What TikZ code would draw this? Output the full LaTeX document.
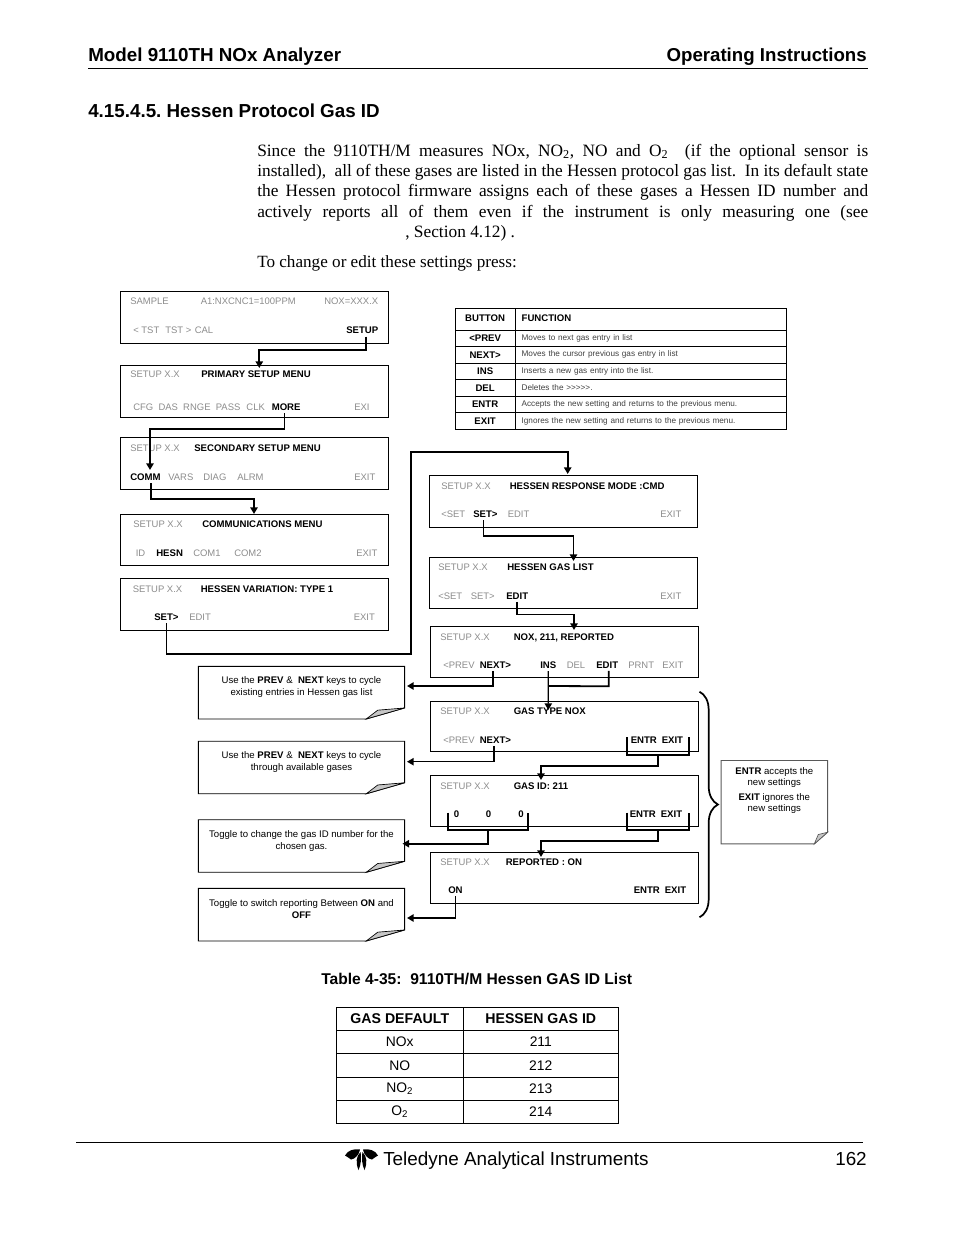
\documentclass[tikz,border=0pt]{standalone}
\usepackage{fontspec}
\setmainfont{Liberation Sans}
\newfontfamily\bodyfont{Liberation Serif}
\usetikzlibrary{calc,arrows.meta,decorations.pathreplacing}
\definecolor{keygray}{gray}{0.55}
\newcommand{\menusize}{\fontsize{7.1}{8}\selectfont}
\newcommand{\boldsize}{\fontsize{7.2}{8}\selectfont\bfseries}
\newcommand{\notesize}{\fontsize{7.2}{9}\selectfont}
\frenchspacing
\tikzset{
  menubox/.style={draw, line width=0.7pt, inner sep=0pt, minimum width=201pt, minimum height=38.5pt},
  dimkey/.style={anchor=base west, inner sep=0pt, text=keygray, font=\menusize},
  livekey/.style={anchor=base west, inner sep=0pt, font=\boldsize},
  flow/.style={line width=1.35pt, -{Triangle[length=5pt,width=5.5pt]}},
  thinflow/.style={flow, line width=1.05pt},
  keyflow/.style={flow, shorten <=2pt},
  thinkeyflow/.style={thinflow, shorten <=2pt},
  bar/.style={line width=1.35pt},
  notebox/.style={inner sep=0pt, minimum width=154.2pt, minimum height=39pt},
  sidebox/.style={inner sep=0pt, minimum width=79.5pt, minimum height=62.2pt},
  notetext/.style={inner sep=0pt, align=center, font=\notesize},
  btncell/.style={draw, line width=0.6pt, inner sep=0pt, minimum width=44.8pt, minimum height=12.4pt, font=\boldsize},
  fncell/.style={draw, line width=0.6pt, inner xsep=5pt, inner ysep=0pt, text width=193.8pt, minimum height=12.4pt, align=left, font=\fontsize{6.15}{8}\selectfont, text=black!75},
  gascell/.style={draw, line width=0.8pt, inner sep=0pt, minimum height=17.3pt, font=\fontsize{10.4}{13}\selectfont},
  gashead/.style={gascell, font=\fontsize{10.6}{13}\selectfont\bfseries},
  pagetext/.style={anchor=base west, inner sep=0pt},
}
% outline of a note with its turned-up corner
\newcommand{\foldnote}[4]{
  \draw[line width=0.7pt, draw=#4] ($(#1.south east)+(0,-#3)$) -- (#1.north east) -- (#1.north west) -- (#1.south west) -- ($(#1.south east)+(-#2,0)$) -- cycle;
  \draw[line width=0.5pt, draw=#4, fill=gray!45] ($(#1.south east)+(-#2,0)$) -- ($(#1.south east)+(-0.7*#2,-0.8*#3)$) -- ($(#1.south east)+(0,-#3)$) -- cycle;
}

\begin{document}
\begin{tikzpicture}[x=0.75pt,y=-0.75pt]
  \useasboundingbox (0,0) rectangle (954,1235);

  % page header
  \node [pagetext, font=\fontsize{14.1}{16}\selectfont\bfseries] (modeltitle) at (88,61) {Model 9110TH NOx Analyzer};
  \node [pagetext, anchor=base east, font=\fontsize{14}{16}\selectfont\bfseries] (opstitle) at (867,61) {Operating Instructions};
  \draw [line width=0.7pt] (88,68.5) -- (868,68.5);
  \node [pagetext, font=\fontsize{14.1}{16}\selectfont\bfseries] (sectitle) at (88,117) {4.15.4.5. Hessen Protocol Gas ID};

  % running text
  \node [anchor=north west, inner sep=0pt, text width=458.25pt, align=justify, font=\bodyfont\fontsize{13}{15.15}\selectfont] (bodytext) at (257,144)
    {Since the 9110TH/M measures NOx, NO\textsubscript{2}, NO and O\textsubscript{2}\ \ (if the optional sensor is\linebreak
     installed),\ \ all of these gases are listed in the Hessen protocol gas list.\ \ In its default state\linebreak
     the Hessen protocol firmware assigns each of these gases a Hessen ID number and\linebreak
     actively reports all of them even if the instrument is only measuring one (see\linebreak
     \hspace*{111pt}, Section 4.12) .};
  \node [pagetext, font=\bodyfont\fontsize{12.85}{15}\selectfont] (presstext) at (257,267) {To change or edit these settings press:};

  % menu screens, left column
  \node [menubox] (samplebox) at (254.7,317.6) {};
  \node [dimkey] (sampletitle) at (130,304.5) {SAMPLE};
  \node [dimkey] (samplecnc) at (200.5,304.5) {A1:NXCNC1=100PPM};
  \node [dimkey] (samplenox) at (324,304.5) {NOX=XXX.X};
  \node [dimkey] (sampletst) at (133,333.5) {< TST\ \ \kern.6pt TST > \kern.6pt CAL};
  \node [livekey] (samplesetup) at (346,333.5) {SETUP};

  \node [menubox] (primarybox) at (254.7,391.5) {};
  \node [dimkey] (primaryver) at (130,377.5) {SETUP X.X};
  \node [livekey] (primarytitle) at (201,377.5) {PRIMARY SETUP MENU};
  \node [dimkey] (primarycfg) at (133,410) {CFG\ \ DAS\ \ RNGE\ \ PASS\ \ \kern.6pt CLK};
  \node [livekey] (primarymore) at (271.5,410) {MORE};
  \node [dimkey] (primaryexit) at (354,410) {EXI};

  \node [menubox] (secondbox) at (254.7,463.3) {};
  \node [dimkey] (secondver) at (130,451) {SETUP X.X};
  \node [livekey] (secondtitle) at (194,451) {SECONDARY SETUP MENU};
  \node [livekey] (secondcomm) at (130,480) {COMM};
  \node [dimkey] (secondvars) at (168,480) {VARS};
  \node [dimkey] (seconddiag) at (203,480) {DIAG};
  \node [dimkey] (secondalrm) at (237,480) {ALRM};
  \node [dimkey] (secondexit) at (354,480) {EXIT};

  \node [menubox] (commbox) at (254.7,540) {};
  \node [dimkey] (commver) at (133,527) {SETUP X.X};
  \node [livekey] (commtitle) at (202,527) {COMMUNICATIONS MENU};
  \node [dimkey] (commid) at (135.5,556) {ID};
  \node [livekey] (commhesn) at (156,556) {HESN};
  \node [dimkey] (commone) at (193,556) {COM1};
  \node [dimkey] (commtwo) at (234,556) {COM2};
  \node [dimkey] (commexit) at (356,556) {EXIT};

  \node [menubox] (varbox) at (254.7,604.3) {};
  \node [dimkey] (varver) at (132.5,592) {SETUP X.X};
  \node [livekey] (vartitle) at (200.5,592) {HESSEN VARIATION: TYPE 1};
  \node [livekey] (varset) at (154,620) {SET>};
  \node [dimkey] (varedit) at (189,620) {EDIT};
  \node [dimkey] (varexit) at (353.5,620) {EXIT};

  % menu screens, right column
  \node [menubox] (modebox) at (563.5,501.3) {};
  \node [dimkey] (modever) at (441,489) {SETUP X.X};
  \node [livekey] (modetitle) at (509.5,489) {HESSEN RESPONSE MODE :CMD};
  \node [dimkey] (modeprev) at (441,517) {<SET};
  \node [livekey] (modeset) at (473,517) {SET>};
  \node [dimkey] (modeedit) at (507.5,517) {EDIT};
  \node [dimkey] (modeexit) at (660,517) {EXIT};

  \node [menubox] (listbox) at (563.5,583) {};
  \node [dimkey] (listver) at (438,570) {SETUP X.X};
  \node [livekey] (listtitle) at (507,570) {HESSEN GAS LIST};
  \node [dimkey] (listprev) at (438,599) {<SET};
  \node [dimkey] (listset) at (470.5,599) {SET>};
  \node [livekey] (listedit) at (506,599) {EDIT};
  \node [dimkey] (listexit) at (660,599) {EXIT};

  \node [menubox] (noxbox) at (564.7,651.8) {};
  \node [dimkey] (noxver) at (440,640) {SETUP X.X};
  \node [livekey] (noxtitle) at (513.5,640) {NOX, 211, REPORTED};
  \node [dimkey] (noxprev) at (443,668) {<PREV};
  \node [livekey] (noxnext) at (479.5,668) {NEXT>};
  \node [livekey] (noxins) at (540,668) {INS};
  \node [dimkey] (noxdel) at (566.5,668) {DEL};
  \node [livekey] (noxedit) at (596,668) {EDIT};
  \node [dimkey] (noxprnt) at (628,668) {PRNT};
  \node [dimkey] (noxexit) at (662,668) {EXIT};

  \node [menubox, minimum height=37.2pt] (typebox) at (564.5,726.5) {};
  \node [dimkey] (typever) at (440,714) {SETUP X.X};
  \node [livekey] (typetitle) at (513.5,714) {GAS TYPE NOX};
  \node [dimkey] (typeprev) at (443,743) {<PREV};
  \node [livekey] (typenext) at (479.5,743) {NEXT>};
  \node [livekey] (typeentr) at (630.5,743) {ENTR};
  \node [livekey] (typeexit) at (661.5,743) {EXIT};

  \node [menubox] (idbox) at (564.5,801) {};
  \node [dimkey] (idver) at (440,789) {SETUP X.X};
  \node [livekey] (idtitle) at (513.5,789) {GAS ID: 211};
  \node [livekey] (idzeroa) at (453.5,817) {0};
  \node [livekey] (idzerob) at (485.5,817) {0};
  \node [livekey] (idzeroc) at (518,817) {0};
  \node [livekey] (identr) at (629.5,817) {ENTR};
  \node [livekey] (idexit) at (660.5,817) {EXIT};

  \node [menubox] (repbox) at (564.5,877.8) {};
  \node [dimkey] (repver) at (440,865) {SETUP X.X};
  \node [livekey] (reptitle) at (505.5,865) {REPORTED : ON};
  \node [livekey] (repon) at (448,893) {ON};
  \node [livekey] (repentr) at (633.5,893) {ENTR};
  \node [livekey] (repexit) at (664.5,893) {EXIT};

  % notes
  \node [notebox] (entrynote) at (301.5,692.7) {};
  \node [notetext] (entrytext) at (301.5,687) {Use the \textbf{PREV} \&\ \ \textbf{NEXT} keys to cycle\\existing entries in Hessen gas list};
  \foldnote{entrynote}{38.3}{11}{black}
  \node [notebox] (gasnote) at (301.5,767.5) {};
  \node [notetext] (gastext) at (301.5,762) {Use the \textbf{PREV} \&\ \ \textbf{NEXT} keys to cycle\\through available gases};
  \foldnote{gasnote}{38.3}{11}{black}
  \node [notebox] (idnote) at (301.5,846) {};
  \node [notetext] (idtext) at (301.5,841) {Toggle to change the gas ID number for the\\chosen gas.};
  \foldnote{idnote}{38.3}{11}{black}
  \node [notebox] (repnote) at (301.5,914.7) {};
  \node [notetext] (reptext) at (301.5,909.5) {Toggle to switch reporting Between \textbf{ON} and\\\textbf{OFF}};
  \foldnote{repnote}{38.3}{11}{black}
  \node [sidebox] (sidenote) at (774.3,802.2) {};
  \node [notetext, font=\fontsize{7.2}{8.5}\selectfont] (sidetext) at (774.3,790.5) {\textbf{ENTR} accepts the\\new settings\\[2.5pt]\textbf{EXIT} ignores the\\new settings};
  \foldnote{sidenote}{13.3}{11.7}{black!65}

  % where the connectors arrive
  \coordinate (primaryin) at (259.3,368);
  \coordinate (secondin) at (150,470);
  \coordinate (commin) at (254,514);
  \coordinate (modein) at (567.7,474);
  \coordinate (listin) at (573.5,561);
  \coordinate (noxin) at (574,630);
  \coordinate (typein) at (548.3,710);
  \coordinate (idin) at (541,780);
  \coordinate (repin) at (541,857);
  \coordinate (entryin) at (407,686);
  \coordinate (gasin) at (407,761.7);
  \coordinate (idnotein) at (402.5,843.7);
  \coordinate (repnotein) at (407,918);

  % connectors
  \draw [keyflow] ([xshift=3pt]samplesetup.south) -- ++(0,16.5) -| (primaryin);
  \draw [keyflow] ([xshift=-1.3pt]primarymore.south) -- ++(0,19) -| (secondin);
  \draw [keyflow] (secondcomm.south west) ++(20.7,0) -- ++(0,19) -| (commin);
  \draw [keyflow] (varset.south) -- ++(0,34) -- ++(244.3,0) |- (modein |- 0,451.7) -- (modein);
  \draw [keyflow] ([xshift=-1.5pt]modeset.south) -- ++(0,19) -| (listin);
  \draw [keyflow] (listedit.south) -- ++(0,15.3) -| (noxin);
  \draw [keyflow] ([xshift=-1.7pt]noxnext.south) |- (entryin);
  \draw [thinflow, shorten <=2pt] (noxins.south) -- ++(0,18) -- (typein);
  \draw [bar, shorten <=2pt] ([xshift=1.1pt]noxedit.south) -- ++(0,18) -- (noxins.south |- 0,686);
  \draw [thinkeyflow] ([xshift=-1pt]typenext.south) |- (gasin);
  \coordinate (typebarl) at (626.7,737);
  \coordinate (typebarr) at (689,737);
  \draw [bar] (typebarl) -- ++(0,18) -| (typebarr);
  \draw [flow] ($(typebarl)!0.5!(typebarr)+(0,18)$) -- ++(0,10.7) -| (idin);
  \coordinate (zerobarl) at (448,812.7);
  \coordinate (zerobarr) at (528.3,812.7);
  \draw [bar] (zerobarl) -- ++(0,17.3) -| (zerobarr);
  \draw [flow] ($(zerobarl)!0.5!(zerobarr)+(0,17.3)$) |- (idnotein);
  \coordinate (idbarl) at (626.7,812.7);
  \coordinate (idbarr) at (689,812.7);
  \draw [bar] (idbarl) -- ++(0,17.3) -| (idbarr);
  \draw [flow] ($(idbarl)!0.5!(idbarr)+(0,17.3)$) -- ++(0,11) -| (repin);
  \draw [keyflow] (repon.south) |- (repnotein);

  % brace
  \coordinate (bracetop) at (699.5,691.7);
  \coordinate (bracebot) at (699.5,917.3);
  \draw [line width=1.3pt, decorate, decoration={brace,amplitude=13.8pt}] (bracetop) -- (bracebot);

  % button table
  \node [btncell, minimum height=16.3pt] (btnhead) at (485.15,319.13) {\raisebox{2.2pt}{BUTTON}};
  \node [fncell, minimum height=16.3pt, font=\boldsize, text=black] (fnhead) at (650.85,319.13) {\raisebox{2.2pt}{FUNCTION}};
  \node [btncell] (btnprev) at (485.15,338.27) {<PREV};
  \node [fncell] (fnprev) at (650.85,338.27) {Moves to next gas entry in list};
  \node [btncell] (btnnext) at (485.15,354.8) {NEXT>};
  \node [fncell] (fnnext) at (650.85,354.8) {Moves the cursor previous gas entry in list};
  \node [btncell] (btnins) at (485.15,371.33) {INS};
  \node [fncell] (fnins) at (650.85,371.33) {Inserts a new gas entry into the list.};
  \node [btncell] (btndel) at (485.15,387.87) {DEL};
  \node [fncell] (fndel) at (650.85,387.87) {Deletes the >{}>{}>{}>{}>.};
  \node [btncell] (btnentr) at (485.15,404.4) {ENTR};
  \node [fncell] (fnentr) at (650.85,404.4) {Accepts the new setting and returns to the previous menu.};
  \node [btncell] (btnexit) at (485.15,420.93) {EXIT};
  \node [fncell] (fnexit) at (650.85,420.93) {Ignores the new setting and returns to the previous menu.};

  % gas table
  \node [pagetext, font=\fontsize{11.7}{14}\selectfont\bfseries] (gascaption) at (321,984) {Table 4-35:\ \ 9110TH/M Hessen GAS ID List};
  \node [gashead, minimum width=95.3pt] (gashdr) at (399.8,1018.7) {GAS DEFAULT};
  \node [gashead, minimum width=116.3pt] (idhdr) at (540.8,1018.7) {HESSEN GAS ID};
  \node [gascell, minimum width=95.3pt] (gasnox) at (399.8,1041.7) {NOx};
  \node [gascell, minimum width=116.3pt] (idnox) at (540.8,1041.7) {211};
  \node [gascell, minimum width=95.3pt, minimum height=18pt] (gasno) at (399.8,1065.3) {NO};
  \node [gascell, minimum width=116.3pt, minimum height=18pt] (idno) at (540.8,1065.3) {212};
  \node [gascell, minimum width=95.3pt] (gasnotwo) at (399.8,1088.85) {NO\textsubscript{2}};
  \node [gascell, minimum width=116.3pt] (idnotwo) at (540.8,1088.85) {213};
  \node [gascell, minimum width=95.3pt] (gasotwo) at (399.8,1111.9) {O\textsubscript{2}};
  \node [gascell, minimum width=116.3pt] (idotwo) at (540.8,1111.9) {214};

  % page footer
  \draw [line width=0.7pt] (76,1142.5) -- (863,1142.5);
  \fill (345,1155.5) .. controls (348,1150) and (354,1148.5) .. (360,1149.5) .. controls (359,1155) and (355,1159) .. (351,1159.5) .. controls (349,1158) and (347,1156.5) .. (345,1155.5) -- cycle;
  \fill (378,1155.5) .. controls (375,1150) and (369,1148.5) .. (363,1149.5) .. controls (364,1155) and (368,1159) .. (372,1159.5) .. controls (374,1158) and (376,1156.5) .. (378,1155.5) -- cycle;
  \fill (360.6,1152) .. controls (356,1156) and (355.5,1163) .. (358.5,1170) .. controls (361,1165) and (361.5,1158) .. (360.6,1152) -- cycle;
  \fill (362.4,1152) .. controls (367,1156) and (367.5,1163) .. (364.5,1170) .. controls (362,1165) and (361.5,1158) .. (362.4,1152) -- cycle;
  \node [pagetext, font=\fontsize{14.15}{16}\selectfont] (footname) at (383,1165) {Teledyne Analytical Instruments};
  \node [pagetext, anchor=base east, font=\fontsize{14.15}{16}\selectfont] (footpage) at (867,1165) {162};
\end{tikzpicture}
\end{document}
